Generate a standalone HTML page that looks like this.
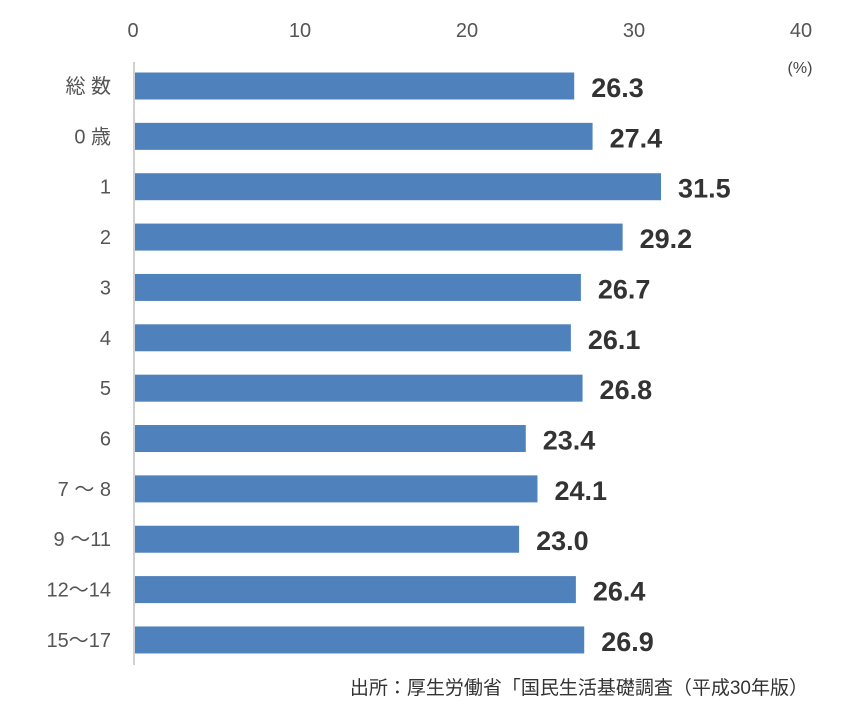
<!DOCTYPE html>
<html><head><meta charset="utf-8"><style>
body{margin:0;background:#fff;}
svg{display:block;font-family:"Liberation Sans","Noto Sans CJK JP",sans-serif;}
</style></head><body>
<svg id="chart" width="846" height="720">
<g id="axis"></g><g id="bars"></g>
<text x="800" y="73" font-size="16" fill="#444" text-anchor="middle">(%)</text>
<text x="808" y="694" font-size="19" fill="#333" text-anchor="end">出所：厚生労働省「国民生活基礎調査（平成30年版）</text>
</svg>
<script>
const categories=["総 数","0 歳","1","2","3","4","5","6","7 ～ 8","9 ～11","12～14","15～17"];
const values=[26.3,27.4,31.5,29.2,26.7,26.1,26.8,23.4,24.1,23.0,26.4,26.9];
const ticks=[0,10,20,30,40];
const NS="http://www.w3.org/2000/svg";
const x0=135,scale=16.7,y0=86,step=50.36,bh=27;
const xs=v=>x0+v*scale, ys=i=>y0+i*step;
const ax=document.getElementById('axis'),bg=document.getElementById('bars');
function mk(t,a,p){const e=document.createElementNS(NS,t);for(const k in a)e.setAttribute(k,a[k]);p.appendChild(e);return e;}
ticks.forEach(t=>{const e=mk('text',{x:xs(t)-2,y:37,'font-size':20,fill:'#555','text-anchor':'middle'},ax);e.textContent=t;

});
const l=mk('line',{x1:134,x2:134,y1:62,y2:665,stroke:'#d0d0d0','stroke-width':2},ax);


categories.forEach((c,i)=>{const y=ys(i);
const t=mk('text',{x:111,y:y+7,'font-size':20,fill:'#555','text-anchor':'end'},bg);t.textContent=c;


const r=mk('rect',{x:x0,y:y-bh/2,width:xs(values[i])-x0,height:bh,fill:'#4f81bd'},bg);


const v=mk('text',{x:xs(values[i])+17,y:y+11,'font-size':27,'font-weight':'bold',fill:'#333'},bg);v.textContent=values[i].toFixed(1);

});
</script>
</body></html>
